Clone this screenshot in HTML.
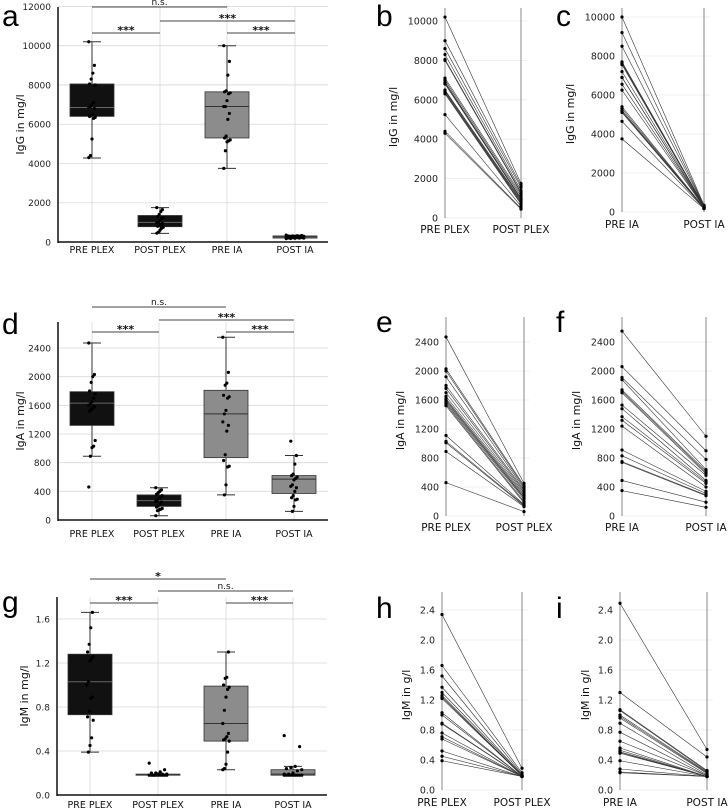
<!DOCTYPE html>
<html><head><meta charset="utf-8"><style>
html,body{margin:0;padding:0;background:#fff}
svg{display:block;font-family:"DejaVu Sans","Liberation Sans",sans-serif}
</style></head><body>
<svg id="fig" width="728" height="809" viewBox="0 0 728 809"></svg>
<script>
// ---------- DATA ----------
const categories = ["PRE PLEX","POST PLEX","PRE IA","POST IA"];
const iggPrePlex  = [10200,9000,8600,8300,8050,8000,7100,7000,6900,6850,6800,6500,6450,6400,6350,6300,5250,4400,4300];
const iggPostPlex = [1750,1650,1550,1400,1300,1250,1200,1100,1000,980,950,900,850,800,750,700,600,500,450];
const iggPreIa    = [10000,9200,8500,7700,7650,7600,7550,7200,6900,6900,6550,6250,5400,5300,5200,5150,5100,4650,3750];
const iggPostIa   = [350,330,320,310,300,290,280,270,260,250,240,230,220,210,200,200,190,180,170];
const iggQ1  = [6400,780,5300,200];
const iggMed = [6850,1000,6900,260];
const iggQ3  = [8050,1350,7650,310];
const iggLo  = [4280,440,3750,170];
const iggHi  = [10200,1750,10000,350];

const igaPrePlex  = [2470,2030,2000,1920,1800,1760,1700,1650,1620,1600,1580,1560,1540,1520,1110,1030,1010,890,460];
const igaPostPlex = [450,420,400,380,360,340,320,300,280,260,250,230,200,180,160,150,140,130,60];
const igaPreIa    = [2550,2060,1910,1880,1740,1720,1700,1530,1480,1370,1320,1240,910,830,750,740,490,350];
const igaPostIa   = [1100,900,780,640,620,600,580,560,490,470,450,400,340,310,290,280,190,120];
const igaQ1  = [1320,190,870,370];
const igaMed = [1630,270,1480,570];
const igaQ3  = [1790,350,1810,620];
const igaLo  = [890,60,350,120];
const igaHi  = [2470,450,2550,900];

const igmPrePlex  = [2.34,1.66,1.52,1.37,1.30,1.26,1.24,1.22,1.03,1.00,0.89,0.88,0.76,0.71,0.68,0.52,0.45,0.39];
const igmPostPlex = [0.29,0.23,0.21,0.20,0.20,0.19,0.19,0.19,0.18,0.18,0.18,0.18,0.18,0.18,0.18,0.18,0.18,0.18];
const igmPreIa    = [2.49,1.30,1.07,1.06,1.00,0.98,0.96,0.89,0.77,0.65,0.56,0.53,0.51,0.50,0.49,0.39,0.28,0.24,0.23];
const igmPostIa   = [0.54,0.44,0.26,0.25,0.24,0.23,0.22,0.20,0.19,0.19,0.18,0.18,0.18,0.18,0.18,0.18,0.18,0.18,0.18];
const igmQ1  = [0.73,0.18,0.49,0.18];
const igmMed = [1.03,0.18,0.65,0.19];
const igmQ3  = [1.28,0.19,0.99,0.23];
const igmLo  = [0.39,0.18,0.23,0.18];
const igmHi  = [1.66,0.19,1.30,0.26];

const iggTicks = [0,2000,4000,6000,8000,10000,12000];
const iggPairTicks = [0,2000,4000,6000,8000,10000];
const igaTicks = [0,400,800,1200,1600,2000,2400];
const igmTicks = [0,0.4,0.8,1.2,1.6];
const igmPairTicks = [0,0.4,0.8,1.2,1.6,2.0,2.4];

// ---------- HELPERS ----------
const NS="http://www.w3.org/2000/svg";
const svg=document.getElementById('fig');
function el(tag,attrs,parent,text){const e=document.createElementNS(NS,tag);for(const k in attrs)e.setAttribute(k,attrs[k]);if(text!==undefined)e.textContent=text;(parent||svg).appendChild(e);return e;}
function fmt(v,dec){return dec?v.toFixed(1):String(v);}

function boxPanel(c){
  const g=el('g',{});
  
  
  const y=v=>c.y0-(v/c.yRef)*(c.y0-c.yRefPx);
  const xs=c.xs;
  // grid
  c.ticks.forEach(t=>{
    const l=el('line',{x1:c.ax,x2:c.right,y1:y(t),y2:y(t),stroke:'#d9d9d9','stroke-width':0.8},g);
    
    const tx=el('text',{x:c.ax-7,y:y(t)+3.5,'font-size':9,'text-anchor':'end',fill:'#222'},g,fmt(t,c.dec));
    
  });
  xs.forEach(x=>{const l=el('line',{x1:x,x2:x,y1:c.top,y2:c.y0,stroke:'#d9d9d9','stroke-width':0.8},g);
    });
  // boxes
  for(let i=0;i<4;i++){
    const x=xs[i],fill=i<2?'#111':'#8c8c8c';
    const w=el('line',{x1:x,x2:x,y1:y(c.hi[i]),y2:y(c.lo[i]),stroke:'#333','stroke-width':1},g);
    
    [c.hi[i],c.lo[i]].forEach(v=>{const cap=el('line',{x1:x-9,x2:x+9,y1:y(v),y2:y(v),stroke:'#333','stroke-width':1},g);
      });
    const b=el('rect',{x:x-22,y:y(c.q3[i]),width:44,height:Math.max(1,y(c.q1[i])-y(c.q3[i])),fill:fill,stroke:'#333','stroke-width':0.8},g);
    
    const m=el('line',{x1:x-22,x2:x+22,y1:y(c.med[i]),y2:y(c.med[i]),stroke:i<2?'#666':'#333','stroke-width':1},g);
    
    c.pts[i].forEach((v,j)=>{
      const py=y(v); if(py<c.top) return;
      const jx=((j*7)%9-4)*(c.flat&&c.flat[i]?2.2:0.8);
      const d=el('circle',{cx:x+jx,cy:py,r:1.6,fill:'#000'},g);
      
    });
  }
  // axes
  const ya=el('line',{x1:c.ax,x2:c.ax,y1:c.top,y2:c.y0+1,stroke:'#111','stroke-width':1.5},g);
  
  const xa=el('line',{x1:c.ax,x2:c.right,y1:c.y0,y2:c.y0,stroke:'#111','stroke-width':1.5},g);
  
  categories.forEach((cat,i)=>{const t=el('text',{x:xs[i],y:c.labY,'font-size':9.5,'text-anchor':'middle',fill:'#111'},g,cat);
    });
  const yt=el('text',{x:0,y:0,'font-size':11,'text-anchor':'middle',fill:'#111',transform:`translate(${c.titleX},${(c.top+c.y0)/2}) rotate(-90)`},g,c.title);
  
  // brackets
  c.brackets.forEach(br=>{
    const l=el('line',{x1:xs[br[0]],x2:xs[br[1]],y1:br[2],y2:br[2],stroke:'#444','stroke-width':1},g);
    
    const t=el('text',{x:(xs[br[0]]+xs[br[1]])/2,y:br[2]-(br[3]==='n.s.'?2:-1),'font-size':br[3]==='n.s.'?9:11,'text-anchor':'middle',fill:'#111','font-weight':'bold'},g,br[3]);
    if(br[3]==='n.s.')t.setAttribute('font-weight','normal');
    
  });
  const L=el('text',{x:c.letterX,y:c.letterY,'font-size':30,fill:'#000','font-family':'Liberation Sans, sans-serif'},g,c.letter);
  
}

function pairPanel(c){
  const g=el('g',{});
  
  
  const y=v=>c.y0-(v/c.yRef)*(c.y0-c.yRefPx);
  c.ticks.forEach(t=>{
    const l=el('line',{x1:c.ax,x2:c.post+6,y1:y(t),y2:y(t),stroke:'#ececec','stroke-width':0.8},g);
    
    const tx=el('text',{x:c.ax-7,y:y(t)+3.5,'font-size':9.5,'text-anchor':'end',fill:'#222'},g,fmt(t,c.dec));
    
  });
  [c.ax,c.post].forEach(x=>{const l=el('line',{x1:x,x2:x,y1:c.top,y2:c.y0,stroke:'#888','stroke-width':1},g);
    });
  c.pre.forEach((v,i)=>{
    const l=el('line',{x1:c.ax,y1:y(v),x2:c.post,y2:y(c.postv[i]),stroke:'#333','stroke-width':0.6},g);
    
    const a=el('circle',{cx:c.ax,cy:y(v),r:1.6,fill:'#000'},g);
    
    const b=el('circle',{cx:c.post,cy:y(c.postv[i]),r:1.6,fill:'#000'},g);
    
  });
  c.labels.forEach((s,i)=>{const t=el('text',{x:i?c.post:c.ax,y:c.labY,'font-size':10.5,'text-anchor':'middle',fill:'#111'},g,s);
    });
  const yt=el('text',{x:0,y:0,'font-size':11,'text-anchor':'middle',fill:'#111',transform:`translate(${c.titleX},${(c.top+c.y0)/2+4}) rotate(-90)`},g,c.title);
  
  const L=el('text',{x:c.letterX,y:c.letterY,'font-size':30,fill:'#000','font-family':'Liberation Sans, sans-serif'},g,c.letter);
  
}

// ---------- PANELS ----------
boxPanel({name:'panel-a-igg-box',letter:'a',letterX:2,letterY:26,ax:58,right:328,top:7,y0:242,yRef:10000,yRefPx:45.7,dec:false,
  xs:[92,160,227,295],ticks:iggTicks,labY:253,titleX:24,title:'IgG in mg/l',
  q1:iggQ1,med:iggMed,q3:iggQ3,lo:iggLo,hi:iggHi,pts:[iggPrePlex,iggPostPlex,iggPreIa,iggPostIa],flat:[0,0,0,1],
  brackets:[[0,2,7,'n.s.'],[1,3,21,'***'],[0,1,33,'***'],[2,3,33,'***']]});
boxPanel({name:'panel-d-iga-box',letter:'d',letterX:2,letterY:334,ax:58,right:328,top:322,y0:520,yRef:2400,yRefPx:348,dec:false,
  xs:[92,159,226,294],ticks:igaTicks,labY:537,titleX:24,title:'IgA in mg/l',
  q1:igaQ1,med:igaMed,q3:igaQ3,lo:igaLo,hi:igaHi,pts:[igaPrePlex,igaPostPlex,igaPreIa,igaPostIa],
  brackets:[[0,2,307,'n.s.'],[1,3,320,'***'],[0,1,332,'***'],[2,3,332,'***']]});
boxPanel({name:'panel-g-igm-box',letter:'g',letterX:2,letterY:612,ax:57,right:327,top:597,y0:795,yRef:1.6,yRefPx:619,dec:true,
  xs:[90,158,226,293],ticks:igmTicks,labY:808,titleX:28,title:'IgM in mg/l',
  q1:igmQ1,med:igmMed,q3:igmQ3,lo:igmLo,hi:igmHi,pts:[igmPrePlex,igmPostPlex,igmPreIa,igmPostIa],flat:[0,1,0,1],
  brackets:[[0,2,579,'*'],[1,3,591,'n.s.'],[0,1,603,'***'],[2,3,603,'***']]});

pairPanel({name:'panel-b-igg-plex',letter:'b',letterX:376,letterY:26,ax:445,post:521,top:8,y0:218,yRef:10000,yRefPx:21,dec:false,
  ticks:iggPairTicks,pre:iggPrePlex,postv:iggPostPlex,labels:['PRE PLEX','POST PLEX'],labY:233,titleX:397,title:'IgG in mg/l'});
pairPanel({name:'panel-c-igg-ia',letter:'c',letterX:556,letterY:26,ax:622,post:704,top:8,y0:212,yRef:10000,yRefPx:17,dec:false,
  ticks:iggPairTicks,pre:iggPreIa,postv:iggPostIa,labels:['PRE IA','POST IA'],labY:228,titleX:574,title:'IgG in mg/l'});
pairPanel({name:'panel-e-iga-plex',letter:'e',letterX:376,letterY:332,ax:446,post:524,top:317,y0:516,yRef:2400,yRefPx:342,dec:false,
  ticks:igaTicks,pre:igaPrePlex,postv:igaPostPlex,labels:['PRE PLEX','POST PLEX'],labY:531,titleX:404,title:'IgA in mg/l'});
pairPanel({name:'panel-f-iga-ia',letter:'f',letterX:556,letterY:332,ax:622,post:706,top:317,y0:516,yRef:2400,yRefPx:342,dec:false,
  ticks:igaTicks,pre:igaPreIa,postv:igaPostIa,labels:['PRE IA','POST IA'],labY:531,titleX:580,title:'IgA in mg/l'});
pairPanel({name:'panel-h-igm-plex',letter:'h',letterX:376,letterY:618,ax:442,post:522,top:592,y0:790,yRef:2.4,yRefPx:610,dec:true,
  ticks:igmPairTicks,pre:igmPrePlex,postv:igmPostPlex,labels:['PRE PLEX','POST PLEX'],labY:806,titleX:410,title:'IgM in g/l'});
pairPanel({name:'panel-i-igm-ia',letter:'i',letterX:556,letterY:618,ax:620,post:707,top:592,y0:790,yRef:2.4,yRefPx:610,dec:true,
  ticks:igmPairTicks,pre:igmPreIa,postv:igmPostIa,labels:['PRE IA','POST IA'],labY:806,titleX:589,title:'IgM in g/l'});
</script>
</body></html>
